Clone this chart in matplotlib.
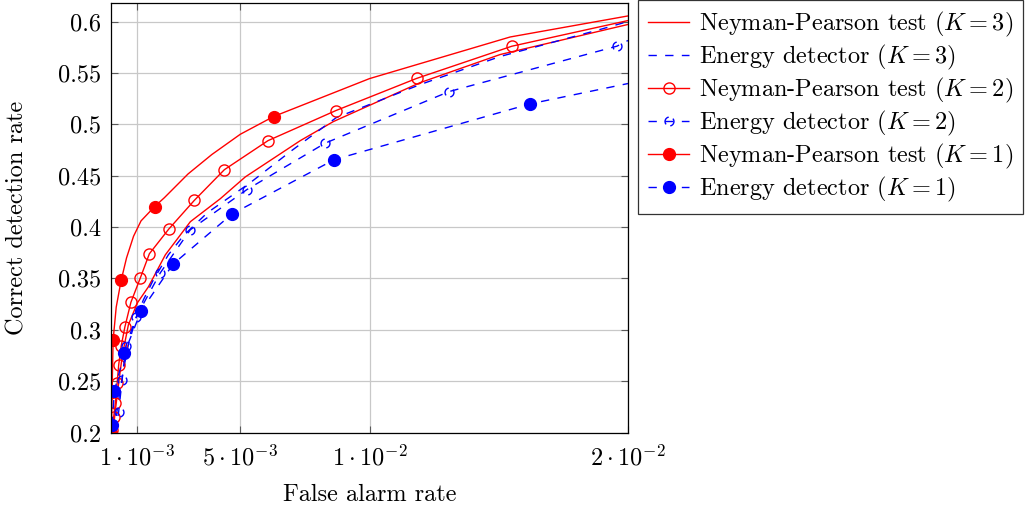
import matplotlib
matplotlib.use("Agg")
import matplotlib.pyplot as plt
from matplotlib.path import Path

plt.rcParams['font.family'] = 'serif'
plt.rcParams['font.serif'] = ['cmr10']
plt.rcParams['mathtext.fontset'] = 'cm'
plt.rcParams['axes.formatter.use_mathtext'] = True
plt.rcParams['axes.unicode_minus'] = False

FS = 17.5

# Neyman-Pearson, K = 1 (marqueurs pleins)
np1_x = [1.4e-5, 4.1e-5, 8.0e-5, 2.0e-4, 3.9e-4, 6.0e-4, 8.7e-4, 1.16e-3, 1.69e-3, 2.06e-3,
         2.98e-3, 3.90e-3, 5.0e-3, 6.29e-3, 0.0100, 0.01544, 0.0200]
np1_y = [0.200, 0.240, 0.290, 0.322, 0.348, 0.370, 0.391, 0.406, 0.420, 0.4285,
         0.4517, 0.4706, 0.4903, 0.5076, 0.5445, 0.585, 0.6055]
np1_marks = [0, 1, 2, 4, 8, 13]

# Neyman-Pearson, K = 2 (marqueurs vides)
np2_x = [3.4e-5, 1.03e-4, 1.69e-4, 2.35e-4, 2.96e-4, 3.9e-4, 5.36e-4, 7.68e-4, 1.135e-3, 1.483e-3,
         2.229e-3, 3.223e-3, 4.383e-3, 6.072e-3, 8.70e-3, 0.011824, 0.015504, 0.0200]
np2_y = [0.2024, 0.2154, 0.229, 0.248, 0.2658, 0.2838, 0.3028, 0.3267, 0.3506, 0.374,
         0.3979, 0.426, 0.4558, 0.4841, 0.5134, 0.5447, 0.576, 0.601]

# Neyman-Pearson, K = 3 (sans marqueurs)
np3_x = [7.2e-5, 1.69e-4, 2.85e-4, 4.39e-4, 6.71e-4, 1.019e-3, 1.445e-3, 2.102e-3, 3.068e-3,
         4.228e-3, 5.194e-3, 7.321e-3, 8.596e-3, 0.01196, 0.01505, 0.0200]
np3_y = [0.200, 0.2219, 0.2463, 0.2755, 0.3048, 0.3262, 0.3418, 0.373, 0.4052,
         0.4276, 0.4488, 0.4841, 0.5026, 0.5406, 0.5679, 0.5972]

# Energy detector, K = 3 (sans marqueurs)
ed3_x = [1.3e-4, 2.08e-4, 3.23e-4, 4.78e-4, 6.71e-4, 9.42e-4, 1.251e-3, 1.638e-3, 2.218e-3,
         2.798e-3, 3.725e-3, 5.388e-3, 6.934e-3, 8.712e-3, 0.011959, 0.015052, 0.018918, 0.0200]
ed3_y = [0.200, 0.2171, 0.2366, 0.261, 0.2853, 0.3097, 0.3291, 0.3486, 0.373,
         0.3915, 0.4139, 0.4432, 0.4734, 0.5065, 0.5387, 0.566, 0.5923, 0.6001]

# Energy detector, K = 2 (cercles pointillés)
ed2_x = [1.69e-4, 2.96e-4, 4.28e-4, 5.75e-4, 9.81e-4, 1.908e-3, 3.068e-3, 5.252e-3, 8.287e-3,
         0.013081, 0.019576, 0.0200]
ed2_y = [0.200, 0.2203, 0.2512, 0.2843, 0.3129, 0.3555, 0.3974, 0.4364, 0.4817,
         0.5319, 0.5761, 0.5816]

# Energy detector, K = 1 (marqueurs pleins)
ed1_x = [4.1e-5, 1.30e-4, 5.17e-4, 1.162e-3, 2.399e-3, 4.680e-3, 8.635e-3, 0.016212, 0.0200]
ed1_y = [0.2073, 0.2407, 0.2772, 0.3184, 0.3639, 0.4127, 0.4656, 0.5199, 0.5397]

x_ticks = [1e-3, 5e-3, 1e-2, 2e-2]
x_tick_labels = [r'$1\cdot10^{-3}$', r'$5\cdot10^{-3}$', r'$1\cdot10^{-2}$', r'$2\cdot10^{-2}$']
y_ticks = [0.2, 0.25, 0.3, 0.35, 0.4, 0.45, 0.5, 0.55, 0.6]
y_tick_labels = ['0.2', '0.25', '0.3', '0.35', '0.4', '0.45', '0.5', '0.55', '0.6']

# marqueur "cercle pointillé" (deux arcs)
broken = Path.make_compound_path(Path.arc(100, 220), Path.arc(280, 40))

red = '#ff0000'
blue = '#0000ff'
dash = (0, (6, 6))

fig = plt.figure(figsize=(10.31, 5.08), dpi=100)
ax = fig.add_axes([0.1077, 0.1486, 0.5014, 0.8447])

ax.plot(np3_x, np3_y, color=red, lw=1.0, label=r'Neyman-Pearson test ($K=3$)')
ax.plot(ed3_x, ed3_y, color=blue, lw=1.0, linestyle=dash, label=r'Energy detector ($K=3$)')
ax.plot(np2_x, np2_y, color=red, lw=1.0, marker='o', mfc='none', mec=red, ms=8, mew=1.0,
        markevery=slice(0, len(np2_x) - 1), label=r'Neyman-Pearson test ($K=2$)')
ax.plot(ed2_x, ed2_y, color=blue, lw=1.0, linestyle=dash, marker=broken, mfc='none', mec=blue,
        ms=6.5, mew=1.0, markevery=slice(1, len(ed2_x) - 1), label=r'Energy detector ($K=2$)')
ax.plot(np1_x, np1_y, color=red, lw=1.0, marker='o', ms=8.5, mec=red, mfc=red,
        markevery=np1_marks, label=r'Neyman-Pearson test ($K=1$)')
ax.plot(ed1_x, ed1_y, color=blue, lw=1.0, linestyle=dash, marker='o', ms=8.5, mec=blue, mfc=blue,
        markevery=slice(0, len(ed1_x) - 1), label=r'Energy detector ($K=1$)')

ax.set_xlim(0, 0.02)
ax.set_ylim(0.2, 0.6177)
ax.set_xticks(x_ticks)
ax.set_xticklabels(x_tick_labels)
ax.set_yticks(y_ticks)
ax.set_yticklabels(y_tick_labels)
ax.tick_params(direction='in', length=5, width=0.8, color='0.35', top=True, right=True,
               labelsize=FS)
ax.tick_params(axis='x', pad=9)
ax.tick_params(axis='y', pad=7)
ax.grid(True, color='#c8c8c8', lw=0.9)
ax.set_axisbelow(True)
for s in ax.spines.values():
    s.set_linewidth(0.9)

ax.set_xlabel('False alarm rate', fontsize=FS, labelpad=10)
ax.set_ylabel('Correct detection rate', fontsize=FS, labelpad=21)

leg = ax.legend(loc='upper left', bbox_to_anchor=(1.02, 1.008), borderaxespad=0, fontsize=FS,
                frameon=True, fancybox=False, edgecolor='black', handlelength=1.7,
                labelspacing=0.16, handletextpad=0.4, borderpad=0.4)
leg.get_frame().set_linewidth(0.9)

fig.savefig('out.png', dpi=100)
